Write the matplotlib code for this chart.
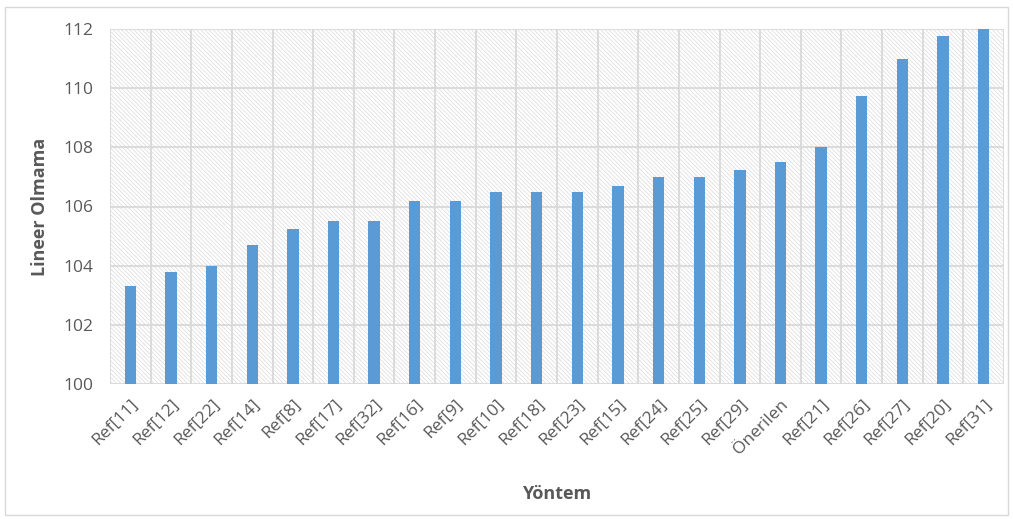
import matplotlib.pyplot as plt
from matplotlib.patches import Rectangle

# veriler
yontemler = ["Ref[11]", "Ref[12]", "Ref[22]", "Ref[14]", "Ref[8]", "Ref[17]", "Ref[32]",
             "Ref[16]", "Ref[9]", "Ref[10]", "Ref[18]", "Ref[23]", "Ref[15]", "Ref[24]",
             "Ref[25]", "Ref[29]", "Önerilen", "Ref[21]", "Ref[26]", "Ref[27]", "Ref[20]", "Ref[31]"]
lineer_olmama = [103.3, 103.8, 104.0, 104.7, 105.25, 105.5, 105.5,
                 106.2, 106.2, 106.5, 106.5, 106.5, 106.7, 107.0,
                 107.0, 107.25, 107.5, 108.0, 109.75, 111.0, 111.75, 112.0]
y_ticks = [100, 102, 104, 106, 108, 110, 112]

plt.rcParams['font.family'] = ['Open Sans', 'DejaVu Sans']
plt.rcParams['hatch.linewidth'] = 0.5
plt.rcParams['hatch.color'] = '#dadada'

gri = '#595959'
fig = plt.figure(figsize=(10.13, 5.19), dpi=100)
ax = fig.add_axes([110 / 1013, 1 - 384 / 519, 894 / 1013, 355 / 519])

# dis cerceve
fig.patches.append(Rectangle((5 / 1013, 4 / 519), 1003 / 1013, 508 / 519, transform=fig.transFigure,
                             fill=False, edgecolor='#d9d9d9', linewidth=1))

n = len(yontemler)
ax.set_xlim(-0.5, n - 0.5)
ax.set_ylim(100, 112)

# tarali arka plan
ax.add_patch(Rectangle((-0.5, 100), n, 12, facecolor='white', edgecolor='#dadada',
                       hatch='\\\\\\\\\\\\\\\\', linewidth=0, zorder=0))

# izgara
for y in y_ticks:
    ax.axhline(y, color='#d9d9d9', linewidth=1.3, zorder=1)
for i in range(n + 1):
    ax.axvline(i - 0.5, color='#d9d9d9', linewidth=1.3, zorder=1)

ax.bar(range(n), [v - 100 for v in lineer_olmama], bottom=100, width=0.28, color='#5b9bd5', zorder=2)

for s in ax.spines.values():
    s.set_visible(False)
ax.set_yticks(y_ticks)
ax.set_xticks(range(n))
ax.set_xticklabels(yontemler, rotation=45, ha='right', rotation_mode='anchor')
ax.tick_params(length=0, labelsize=12.5, colors=gri, pad=9)
ax.tick_params(axis='y', pad=12)

ax.set_ylabel('Lineer Olmama', fontsize=13, fontweight='bold', color=gri, labelpad=10)
ax.set_xlabel('Yöntem', fontsize=13, fontweight='bold', color=gri, labelpad=20)

plt.savefig('out.png', dpi=100, facecolor='white')
plt.close()
